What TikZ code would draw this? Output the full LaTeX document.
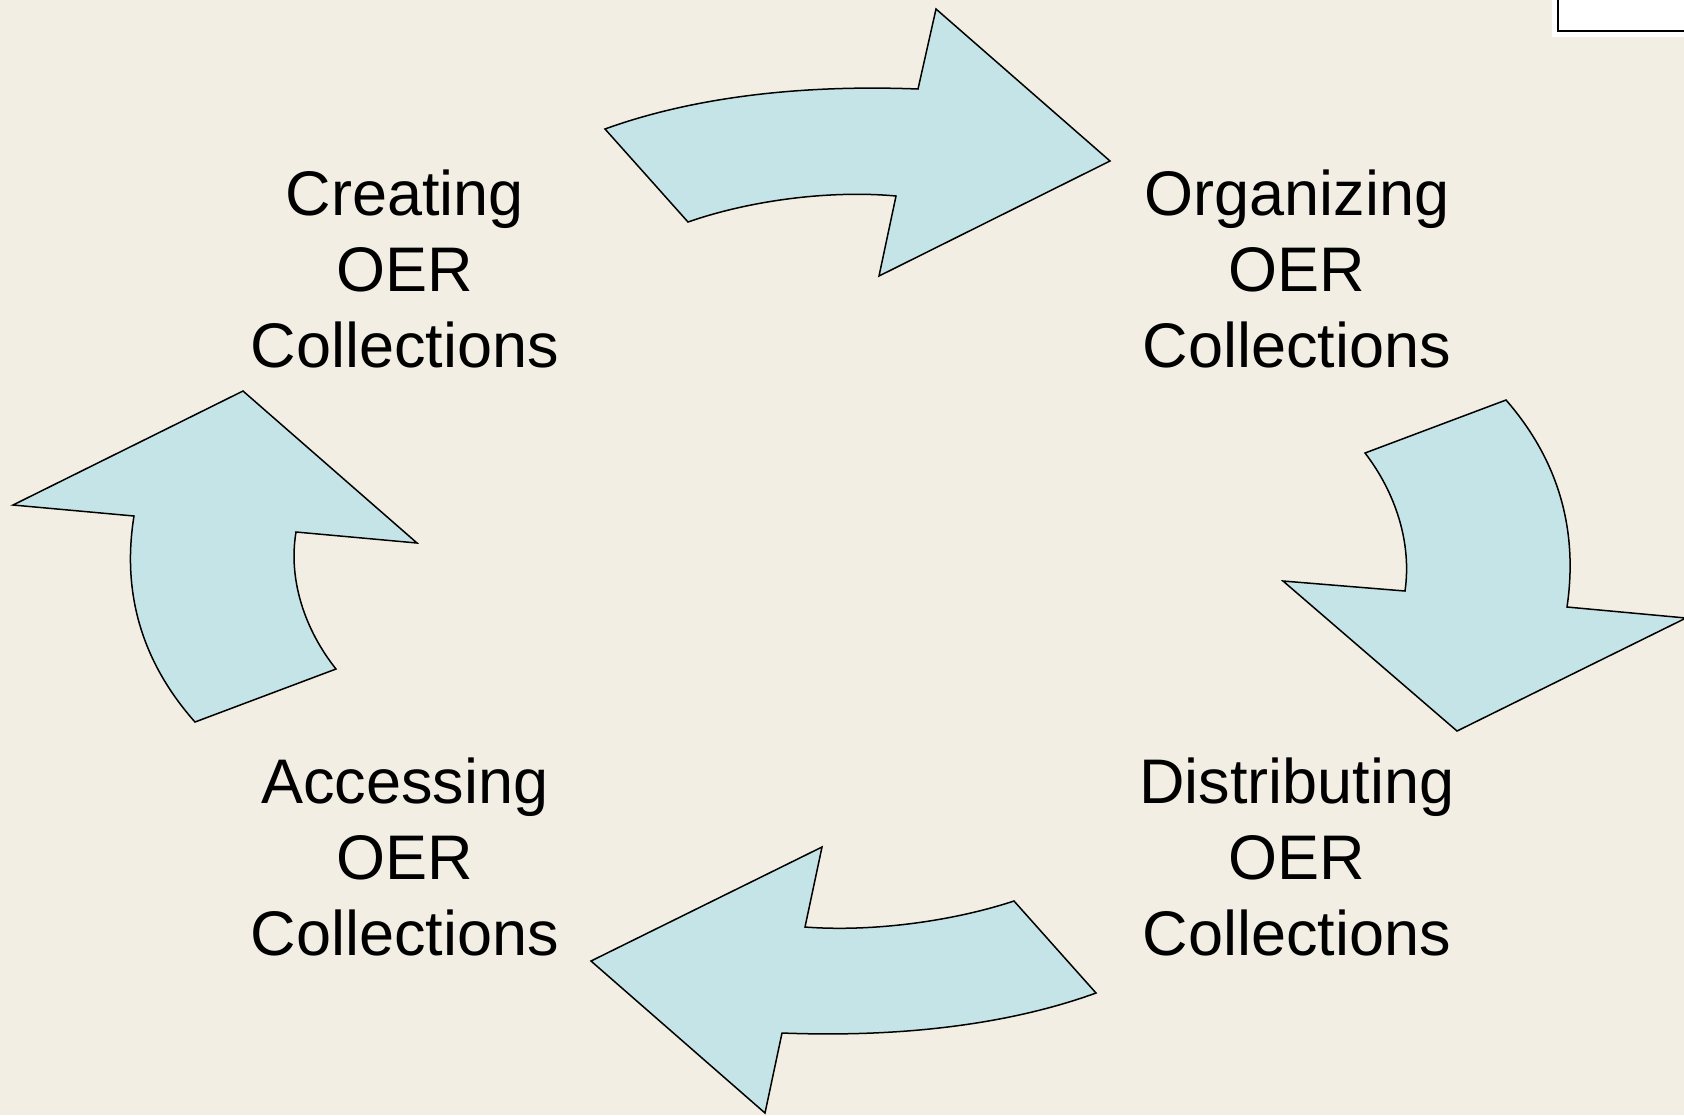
\documentclass[tikz,border=0pt]{standalone}
\usepackage{fontspec}
\setmainfont{Liberation Sans}
\usepackage{xcolor}
\usepackage{tikz}
\usetikzlibrary{positioning}

\definecolor{slidebg}{RGB}{242,238,227}
\definecolor{arrowblue}{RGB}{197,228,231}

\begin{document}
\begin{tikzpicture}[x=0.5pt, y=-0.5pt,
  oerarrow/.style={draw=black, fill=arrowblue, line width=0.75pt, line join=miter},
  oerlabel/.style={align=center, inner sep=0pt, font=\fontsize{31.5}{38}\selectfont}]
\useasboundingbox (0, 0) rectangle (1684, 1115);
\fill[slidebg] (0, 0) rectangle (1684, 1115);

% box in the corner
\fill[white] (1552, 0) rectangle (1684, 37);
\draw[line width=1pt] (1558, 0) -- (1558, 31) -- (1684, 31);

% top arrow
\draw[oerarrow] (605, 129) .. controls (685, 100) and (790, 84) .. (918, 89)
  -- (936, 9) -- (1110, 161) -- (879, 276) -- (896, 196)
  .. controls (831, 190) and (751, 200) .. (688, 222) -- cycle;

% right arrow
\draw[oerarrow] (1365, 453) -- (1506, 400)
  .. controls (1560, 462) and (1578, 532) .. (1567, 607)
  -- (1686, 618) -- (1457, 731) -- (1283, 581) -- (1405, 591)
  .. controls (1412, 542) and (1395, 492) .. (1365, 453) -- cycle;

% bottom arrow
\draw[oerarrow] (1096, 993) .. controls (1016, 1022) and (911, 1038) .. (782, 1033)
  -- (765, 1113) -- (591, 961) -- (822, 847) -- (805, 927)
  .. controls (870, 932) and (950, 922) .. (1014, 901) -- cycle;

% left arrow
\draw[oerarrow] (336, 669) .. controls (305, 630) and (288, 580) .. (296, 532)
  -- (417, 543) -- (243, 391) -- (13, 505) -- (134, 516)
  .. controls (122, 590) and (140, 660) .. (195, 722) -- cycle;

\node[oerlabel] (creating) at (405, 269) {Creating\\OER\\Collections};
\node[oerlabel] (organizing) at (1297, 269) {Organizing\\OER\\Collections};
\node[oerlabel] (distributing) at (1297, 857) {Distributing\\OER\\Collections};
\node[oerlabel] (accessing) at (405, 857) {Accessing\\OER\\Collections};
\end{tikzpicture}
\end{document}
